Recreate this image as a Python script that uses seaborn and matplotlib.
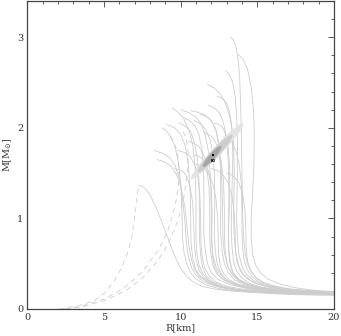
import numpy as np
import pandas as pd
import matplotlib
matplotlib.use("Agg")
import matplotlib.pyplot as plt
from matplotlib.patches import Ellipse
from matplotlib.ticker import MultipleLocator
import seaborn as sns

sns.set_theme(style="white")
plt.rcParams['font.family'] = ['DejaVu Serif']
plt.rcParams['mathtext.fontset'] = 'dejavuserif'

# ---- solid mass-radius curves (R in km, M in Msun), from low mass to max mass
solid_R = [
    [20, 18.5, 17, 16, 15.4, 14.95, 14.6, 14.35, 14.2, 14.1, 14.05, 14.0, 13.95, 13.9, 13.85, 13.75, 13.6, 13.45, 13.25],
    [20, 18.5, 17.3, 16.4, 15.7, 15.2, 14.9, 14.7, 14.6, 14.6, 14.7, 14.78, 14.8, 14.75, 14.6, 14.36, 14.05, 13.75],
    [20, 18, 16.5, 15.5, 14.8, 14.3, 14.0, 13.8, 13.7, 13.65, 13.7, 13.7, 13.65, 13.55, 13.4, 13.2, 12.94],
    [20, 18, 16.5, 15.3, 14.6, 14.1, 13.8, 13.6, 13.5, 13.45, 13.5, 13.45, 13.3, 13.1, 12.85, 12.55, 12.2, 11.75],
    [20, 17.5, 15.5, 14.0, 13.0, 12.3, 11.8, 11.45, 11.2, 11.05, 11.0, 11.0, 10.95, 10.8, 10.55, 10.2, 9.85, 9.46],
    [20, 18, 16, 14.8, 13.8, 13.1, 12.6, 12.3, 12.1, 12.0, 12.0, 11.95, 11.8, 11.6, 11.35, 11.0, 10.5, 10.0],
    [20, 18, 16.5, 15.3, 14.4, 13.8, 13.35, 13.05, 12.85, 12.75, 12.72, 12.65, 12.5, 12.3, 12.0, 11.6, 11.15, 10.65],
    [20, 17, 15, 13.5, 12.4, 11.6, 11.0, 10.65, 10.4, 10.22, 10.12, 10.08, 10.0, 9.85, 9.65, 9.4, 9.1, 8.8],
    [20, 17, 15, 13.6, 12.6, 11.8, 11.2, 10.9, 10.7, 10.55, 10.45, 10.3, 10.05, 9.75, 9.4, 9.0, 8.48],
    [20, 18, 16.5, 15.0, 14.1, 13.5, 13.1, 12.85, 12.7, 12.6, 12.62, 12.6, 12.5, 12.3, 12.05, 11.7, 11.3],
    [20, 17.5, 15.5, 13.8, 12.7, 11.9, 11.35, 11.0, 10.8, 10.68, 10.65, 10.62, 10.5, 10.3, 10.0, 9.6, 9.1],
    [20, 17.5, 15.5, 14.2, 13.2, 12.5, 12.0, 11.75, 11.6, 11.5, 11.52, 11.5, 11.4, 11.2, 10.95, 10.6, 10.2],
    [20, 18, 16, 14.6, 13.7, 13.0, 12.6, 12.38, 12.25, 12.2, 12.23, 12.2, 12.1, 11.9, 11.6, 11.25, 10.9],
    [20, 17, 15, 13.5, 12.3, 11.5, 11.0, 10.7, 10.5, 10.38, 10.3, 10.15, 9.95, 9.65, 9.3, 8.8, 8.26],
    [20, 18, 16.5, 15.3, 14.5, 14.0, 13.65, 13.45, 13.35, 13.3, 13.35, 13.4, 13.35, 13.2, 13.0, 12.75, 12.4],
    [20, 18, 16.5, 15.2, 14.3, 13.7, 13.3, 13.05, 12.92, 12.85, 12.85, 12.8, 12.65, 12.45, 12.2, 11.9, 11.5],
    [20, 18, 16, 14.5, 13.5, 12.8, 12.35, 12.1, 11.95, 11.9, 11.9, 11.85, 11.7, 11.5, 11.2, 10.85, 10.5],
    [20, 17.5, 15.5, 14.0, 13.0, 12.3, 11.85, 11.55, 11.4, 11.32, 11.3, 11.25, 11.1, 10.9, 10.6, 10.2, 9.8],
    [20, 18, 16.2, 14.8, 13.8, 13.2, 12.8, 12.58, 12.48, 12.45, 12.42, 12.3, 12.1, 11.85, 11.55, 11.25, 11.0],
    [20, 18.5, 17, 15.8, 14.9, 14.3, 13.9, 13.68, 13.58, 13.55, 13.5, 13.35, 13.1, 12.8, 12.5, 12.2, 12.0],
    [20, 18.5, 17.2, 16.2, 15.4, 14.9, 14.55, 14.35, 14.27, 14.25, 14.2, 14.05, 13.8, 13.5, 13.2, 13.0],
    [20, 17.5, 15.3, 13.8, 12.8, 12.1, 11.65, 11.42, 11.3, 11.22, 11.22, 11.2, 11.1, 10.9, 10.65, 10.3, 9.9],
    [20, 18, 16.5, 15.2, 14.3, 13.75, 13.42, 13.25, 13.15, 13.12, 13.15, 13.12, 13.0, 12.8, 12.55, 12.2, 11.8],
    [20, 18.5, 17, 16, 15.2, 14.7, 14.35, 14.15, 14.05, 14.0, 14.0, 13.95, 13.8, 13.6, 13.35, 13.1, 12.8],
    [20, 18, 16.5, 15.2, 14.3, 13.7, 13.35, 13.2, 13.12, 13.12, 13.2, 13.2, 13.1, 12.95, 12.75, 12.5, 12.2],
    [20, 18, 16, 14.6, 13.6, 12.95, 12.5, 12.22, 12.08, 12.02, 12.05, 12.0, 11.85, 11.65, 11.4, 11.15, 10.9],
    [20, 17.5, 15.3, 13.8, 12.8, 12.0, 11.5, 11.2, 11.0, 10.9, 10.85, 10.78, 10.6, 10.4, 10.15, 9.9, 9.6],
    [20, 18, 16, 14.5, 13.2, 12.2, 11.4, 10.8, 10.4, 10.0, 9.6, 9.2, 8.8, 8.4, 8.0, 7.7, 7.45, 7.3],
]
solid_M = [
    [0.18, 0.20, 0.22, 0.25, 0.29, 0.34, 0.41, 0.50, 0.62, 0.80, 1.0, 1.5, 2.0, 2.3, 2.55, 2.75, 2.9, 2.97, 3.0],
    [0.19, 0.21, 0.24, 0.28, 0.33, 0.40, 0.48, 0.60, 0.78, 1.0, 1.3, 1.6, 1.97, 2.2, 2.45, 2.65, 2.76, 2.81],
    [0.17, 0.19, 0.22, 0.26, 0.31, 0.38, 0.47, 0.60, 0.78, 1.0, 1.5, 1.9, 2.15, 2.35, 2.5, 2.58, 2.63],
    [0.17, 0.19, 0.22, 0.26, 0.31, 0.38, 0.47, 0.60, 0.78, 1.0, 1.5, 1.85, 2.05, 2.18, 2.3, 2.38, 2.44, 2.48],
    [0.16, 0.17, 0.19, 0.21, 0.23, 0.27, 0.32, 0.39, 0.48, 0.62, 0.80, 1.2, 1.55, 1.8, 1.97, 2.1, 2.17, 2.22],
    [0.17, 0.18, 0.20, 0.23, 0.26, 0.31, 0.38, 0.47, 0.60, 0.80, 1.1, 1.45, 1.75, 1.92, 2.04, 2.12, 2.17, 2.2],
    [0.17, 0.18, 0.20, 0.23, 0.27, 0.32, 0.39, 0.48, 0.62, 0.80, 1.2, 1.55, 1.82, 1.98, 2.08, 2.14, 2.17, 2.19],
    [0.15, 0.16, 0.18, 0.20, 0.23, 0.27, 0.33, 0.40, 0.50, 0.62, 0.80, 1.1, 1.4, 1.62, 1.78, 1.89, 1.96, 2.0],
    [0.16, 0.17, 0.19, 0.21, 0.24, 0.29, 0.36, 0.44, 0.55, 0.68, 0.85, 1.1, 1.33, 1.48, 1.57, 1.62, 1.65],
    [0.17, 0.18, 0.20, 0.23, 0.27, 0.32, 0.40, 0.50, 0.65, 0.85, 1.2, 1.55, 1.8, 1.97, 2.07, 2.12, 2.15],
    [0.16, 0.17, 0.19, 0.21, 0.24, 0.29, 0.35, 0.43, 0.55, 0.72, 1.0, 1.3, 1.6, 1.8, 1.93, 2.0, 2.04],
    [0.17, 0.18, 0.20, 0.23, 0.27, 0.32, 0.40, 0.50, 0.65, 0.85, 1.2, 1.5, 1.75, 1.92, 2.02, 2.08, 2.11],
    [0.17, 0.18, 0.20, 0.23, 0.27, 0.32, 0.40, 0.50, 0.65, 0.85, 1.2, 1.5, 1.72, 1.88, 1.99, 2.05, 2.08],
    [0.16, 0.17, 0.19, 0.21, 0.25, 0.30, 0.37, 0.46, 0.58, 0.72, 0.92, 1.18, 1.42, 1.58, 1.67, 1.72, 1.75],
    [0.18, 0.19, 0.21, 0.24, 0.28, 0.34, 0.42, 0.52, 0.68, 0.90, 1.3, 1.7, 1.98, 2.17, 2.27, 2.32, 2.35],
    [0.17, 0.18, 0.20, 0.23, 0.27, 0.32, 0.39, 0.48, 0.62, 0.80, 1.1, 1.4, 1.62, 1.77, 1.87, 1.92, 1.95],
    [0.17, 0.18, 0.20, 0.23, 0.27, 0.32, 0.39, 0.48, 0.62, 0.80, 1.05, 1.35, 1.56, 1.7, 1.79, 1.83, 1.85],
    [0.16, 0.17, 0.19, 0.22, 0.25, 0.30, 0.37, 0.46, 0.58, 0.75, 1.0, 1.28, 1.48, 1.6, 1.69, 1.73, 1.75],
    [0.17, 0.18, 0.20, 0.23, 0.27, 0.32, 0.39, 0.48, 0.60, 0.78, 1.0, 1.22, 1.38, 1.48, 1.55, 1.58, 1.6],
    [0.18, 0.19, 0.21, 0.24, 0.28, 0.34, 0.42, 0.52, 0.66, 0.85, 1.05, 1.25, 1.39, 1.47, 1.52, 1.54, 1.55],
    [0.19, 0.20, 0.22, 0.25, 0.29, 0.35, 0.43, 0.54, 0.68, 0.88, 1.08, 1.27, 1.39, 1.46, 1.49, 1.5],
    [0.16, 0.17, 0.19, 0.21, 0.25, 0.30, 0.37, 0.47, 0.60, 0.80, 1.1, 1.4, 1.65, 1.84, 1.96, 2.02, 2.05],
    [0.17, 0.18, 0.20, 0.23, 0.27, 0.32, 0.40, 0.50, 0.65, 0.85, 1.25, 1.6, 1.88, 2.05, 2.16, 2.22, 2.25],
    [0.19, 0.20, 0.22, 0.25, 0.29, 0.35, 0.43, 0.53, 0.67, 0.85, 1.1, 1.4, 1.62, 1.75, 1.84, 1.88, 1.9],
    [0.18, 0.19, 0.21, 0.24, 0.28, 0.34, 0.42, 0.52, 0.66, 0.88, 1.2, 1.55, 1.78, 1.92, 2.0, 2.04, 2.05],
    [0.17, 0.18, 0.19, 0.22, 0.26, 0.31, 0.37, 0.46, 0.58, 0.75, 1.05, 1.33, 1.5, 1.6, 1.66, 1.69, 1.7],
    [0.16, 0.17, 0.19, 0.21, 0.24, 0.29, 0.35, 0.43, 0.55, 0.70, 0.95, 1.18, 1.36, 1.46, 1.52, 1.54, 1.55],
    [0.16, 0.165, 0.175, 0.185, 0.20, 0.22, 0.25, 0.30, 0.36, 0.45, 0.59, 0.77, 0.95, 1.12, 1.26, 1.33, 1.36, 1.36],
]

# ---- dashed curves (self-bound branches)
dashed_R = [
    [2.07, 3.2, 4.35, 5.0, 5.67, 6.1, 6.53, 6.8, 6.97, 7.1, 7.2, 7.3],
    [2.4, 3.5, 5.0, 6.0, 6.5, 7.5, 8.5, 8.9, 9.3, 9.65, 9.85, 9.9, 9.8, 9.55, 9.3],
    [2.5, 3.5, 5.0, 6.5, 7.5, 8.5, 9.2, 9.8, 10.2, 10.45, 10.5, 10.35, 10.1],
]
dashed_M = [
    [0.0, 0.03, 0.09, 0.17, 0.31, 0.44, 0.61, 0.78, 0.97, 1.15, 1.30, 1.36],
    [0.0, 0.03, 0.11, 0.20, 0.26, 0.41, 0.64, 0.76, 0.93, 1.15, 1.35, 1.55, 1.72, 1.85, 1.90],
    [0.0, 0.02, 0.09, 0.21, 0.34, 0.53, 0.72, 0.97, 1.22, 1.50, 1.72, 1.90, 1.97],
]

# ---- credible region (nested ellipses): centre R, centre M, half-length, half-width, grey
ell_R = [12.375, 12.25, 12.05]
ell_M = [1.74, 1.718, 1.684]
ell_a = [1.75, 1.15, 0.62]
ell_b = [0.075, 0.062, 0.047]
ell_grey = ['#e3e3e3', '#cdcdcd', '#a6a6a6']
ell_angle = 9.9

# ---- markers
dot_R, dot_M = [12.13], [1.70]
cross_R, cross_M = [12.07], [1.645]

x_ticks = [0, 5, 10, 15, 20]
y_ticks = [0, 1, 2, 3]

def long_df(Rs, Ms):
    rows = []
    for i, (r, m) in enumerate(zip(Rs, Ms)):
        for k, (a, b) in enumerate(zip(r, m)):
            rows.append((i, k, a, b))
    return pd.DataFrame(rows, columns=['curve', 'k', 'R', 'M'])

df_s = long_df(solid_R, solid_M)
df_d = long_df(dashed_R, dashed_M)

fig = plt.figure(figsize=(3.41, 3.36), dpi=100)
ax = fig.add_axes([27.3 / 341, 27 / 336, (334 - 27.3) / 341, (335 - 27) / 336])

line_col = '#cdcdcd'
sns.lineplot(data=df_s, x='R', y='M', units='curve', estimator=None, sort=False,
             color=line_col, lw=0.6, ax=ax, zorder=2)
n_solid = len(ax.lines)
sns.lineplot(data=df_d, x='R', y='M', units='curve', estimator=None, sort=False,
             color=line_col, lw=0.6, ax=ax, zorder=2)
for ln in ax.lines[n_solid:]:
    ln.set_dashes((6, 5))

for r, m, a, b, g in zip(ell_R, ell_M, ell_a, ell_b, ell_grey):
    ax.add_patch(Ellipse((r, m), 2 * a, 2 * b, angle=ell_angle, facecolor=g,
                         edgecolor='none', zorder=3))

sns.scatterplot(x=dot_R, y=dot_M, marker='s', s=3.5, color='black', linewidth=0, ax=ax, zorder=5)
sns.scatterplot(x=cross_R, y=cross_M, marker='s', s=3.5, facecolor='none', edgecolor='black',
                linewidth=0.4, ax=ax, zorder=5)
sns.scatterplot(x=cross_R, y=cross_M, marker='x', s=2.5, color='black', linewidth=0.4, ax=ax, zorder=5)

ax.set_xlim(0, 20)
ax.set_ylim(0, 3.4)
ax.set_xticks(x_ticks)
ax.set_yticks(y_ticks)
ax.xaxis.set_minor_locator(MultipleLocator(1))
ax.yaxis.set_minor_locator(MultipleLocator(0.2))
ax.tick_params(which='both', direction='in', top=True, right=True, colors='#444444',
               labelcolor='#333333', labelsize=7, width=0.6)
ax.tick_params(which='major', length=4.3, pad=3)
ax.tick_params(which='minor', length=2.2)
for s in ax.spines.values():
    s.set_color('#444444')
    s.set_linewidth(0.9)
ax.set_xlabel('R[km]', fontsize=7, color='#333333', labelpad=1)
ax.set_ylabel(r'M[M$_{\odot}$]', fontsize=7, color='#333333', labelpad=2)

fig.savefig('out.png', dpi=100)
